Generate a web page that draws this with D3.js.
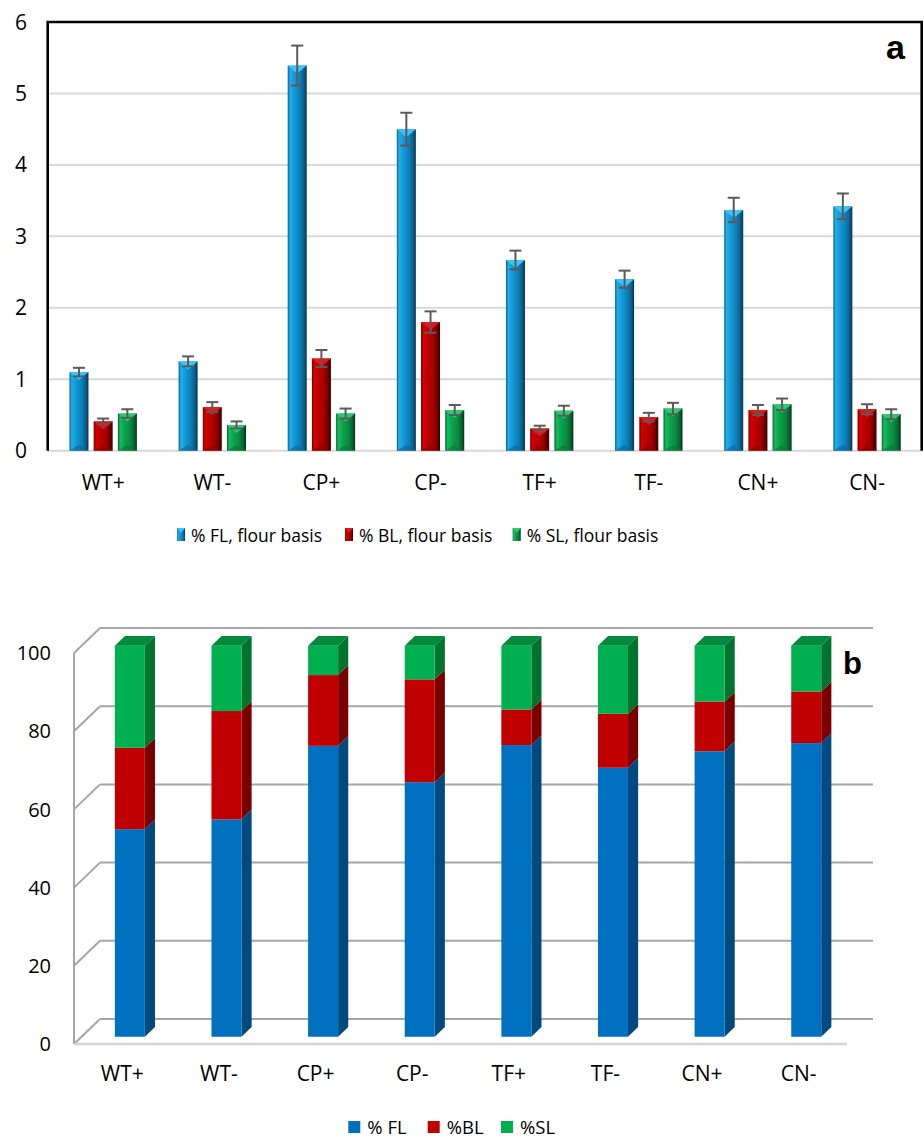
<!DOCTYPE html>
<html><head><meta charset="utf-8">
<script src="https://cdn.jsdelivr.net/npm/d3@7"></script>
<style>body{margin:0;background:#fff}svg{display:block}</style>
</head><body>
<svg id="chart" width="923" height="1140"></svg>
<script>
// Sample groups
const categories = ["WT+", "WT-", "CP+", "CP-", "TF+", "TF-", "CN+", "CN-"];

// Panel a: losses on flour basis (%) with standard deviations
const flValues = [1.10, 1.25, 5.39, 4.50, 2.67, 2.40, 3.37, 3.42];
const flErrors = [0.06, 0.07, 0.28, 0.23, 0.13, 0.12, 0.17, 0.18];
const blValues = [0.41, 0.61, 1.29, 1.80, 0.31, 0.47, 0.57, 0.58];
const blErrors = [0.04, 0.07, 0.12, 0.15, 0.04, 0.06, 0.07, 0.07];
const slValues = [0.52, 0.36, 0.52, 0.57, 0.56, 0.59, 0.65, 0.51];
const slErrors = [0.06, 0.05, 0.07, 0.07, 0.07, 0.08, 0.08, 0.07];

// Panel b: share of each loss in the total (%)
const pctFL = [53.1, 55.6, 74.4, 65.1, 74.6, 68.8, 73.0, 75.1];
const pctBL = [20.8, 27.7, 18.1, 26.3, 9.1, 13.8, 12.7, 13.2];
const pctSL = [26.1, 16.7, 7.5, 8.6, 16.3, 17.4, 14.3, 11.7];

const seriesKeys = ["FL", "BL", "SL"];
const legendLabelsA = ["% FL, flour basis", "% BL, flour basis", "% SL, flour basis"];
const legendLabelsB = ["% FL", "%BL", "%SL"];
const yTicksA = [0, 1, 2, 3, 4, 5, 6];
const yTicksB = [0, 20, 40, 60, 80, 100];

const FONT = "'Open Sans', 'Noto Sans', sans-serif";
const svg = d3.select("#chart");
const defs = svg.append("defs");

// ---------------- Panel a: clustered bars with bevelled look ----------------
const frameA = { left: 47.7, right: 921.7, top: 22, bottom: 450.7 };
const yA = d3.scaleLinear().domain([0, 6]).range([frameA.bottom, frameA.top]);
const xA = d3.scaleBand().domain(categories).range([48.6, 921.6]);
const xInner = d3.scaleBand().domain(seriesKeys).range([-33.7, 33.7]).paddingInner(0.215);

const styleA = {
  FL: { stops: ["#0d5e8c", "#1cb0ea", "#1598d6", "#0c7fba", "#0a5a86", "#062f47"], top: "#3cc4f6", base: "#0a6a9c" },
  BL: { stops: ["#6e0000", "#d40000", "#bd0000", "#a30000", "#6a0000", "#330000"], top: "#e41616", base: "#8a0000" },
  SL: { stops: ["#06602e", "#14bc5e", "#0da14d", "#0a8a40", "#06602c", "#033018"], top: "#26cc6e", base: "#077a3a" }
};
const stopOffsets = [0, 0.12, 0.35, 0.65, 0.88, 1];
seriesKeys.forEach(k => {
  const g = defs.append("linearGradient").attr("id", "grad" + k)
    .attr("x1", 0).attr("x2", 1).attr("y1", 0).attr("y2", 0);
  styleA[k].stops.forEach((c, i) => g.append("stop").attr("offset", stopOffsets[i]).attr("stop-color", c));
});

const gA = svg.append("g");

// gridlines
gA.selectAll("line.grid").data(yTicksA.filter(t => t > 0 && t < 6)).join("line")
  .attr("x1", frameA.left).attr("x2", frameA.right)
  .attr("y1", d => yA(d)).attr("y2", d => yA(d))
  .attr("stroke", "#d9d9d9").attr("stroke-width", 2);
// category axis line
gA.append("line").attr("x1", frameA.left).attr("x2", frameA.right)
  .attr("y1", yA(0)).attr("y2", yA(0)).attr("stroke", "#d9d9d9").attr("stroke-width", 2);
// frame
gA.append("path")
  .attr("d", `M${frameA.left},${frameA.bottom}V${frameA.top}H${frameA.right}V${frameA.bottom}`)
  .attr("fill", "none").attr("stroke", "#000").attr("stroke-width", 2.6);

// y tick labels
gA.selectAll("text.ytick").data(yTicksA).join("text")
  .attr("x", 27).attr("y", d => yA(d)).attr("dy", "0.36em")
  .attr("text-anchor", "end").attr("font-family", FONT).attr("font-size", 21).attr("fill", "#000")
  .text(d => d);

// bars
const tableA = categories.map((c, i) => ({
  cat: c,
  FL: { v: flValues[i], e: flErrors[i] },
  BL: { v: blValues[i], e: blErrors[i] },
  SL: { v: slValues[i], e: slErrors[i] }
}));
const barsA = [];
tableA.forEach(row => seriesKeys.forEach(k => barsA.push({ cat: row.cat, key: k, v: row[k].v, e: row[k].e })));

const bw = xInner.bandwidth();
const barG = gA.selectAll("g.bar").data(barsA).join("g")
  .attr("transform", d => `translate(${xA(d.cat) + xA.bandwidth() / 2 + xInner(d.key)},0)`);

barG.append("rect")
  .attr("x", 0).attr("width", bw)
  .attr("y", d => yA(d.v)).attr("height", d => yA(0) - yA(d.v))
  .attr("fill", d => `url(#grad${d.key})`);
// top bevel
barG.append("path")
  .attr("d", d => `M0,${yA(d.v)}H${bw}L${bw / 2},${yA(d.v) + 8}Z`)
  .attr("fill", d => styleA[d.key].top);
// bottom bevel
barG.append("path")
  .attr("d", d => `M0,${yA(0)}H${bw}L${bw / 2},${yA(0) - 6}Z`)
  .attr("fill", d => styleA[d.key].base).attr("opacity", 0.7);

// error bars
const errG = barG.append("g").attr("stroke", "#5a5a5a").attr("stroke-width", 2);
errG.append("line").attr("x1", bw / 2).attr("x2", bw / 2)
  .attr("y1", d => yA(d.v + d.e)).attr("y2", d => yA(d.v - d.e));
errG.append("line").attr("x1", bw / 2 - 6).attr("x2", bw / 2 + 6)
  .attr("y1", d => yA(d.v + d.e)).attr("y2", d => yA(d.v + d.e));
errG.append("line").attr("x1", bw / 2 - 6).attr("x2", bw / 2 + 6)
  .attr("y1", d => yA(d.v - d.e)).attr("y2", d => yA(d.v - d.e));

// x labels
gA.selectAll("text.xlab").data(categories).join("text")
  .attr("x", d => xA(d) + xA.bandwidth() / 2).attr("y", 490)
  .attr("text-anchor", "middle").attr("font-family", FONT).attr("font-size", 21).attr("fill", "#000")
  .text(d => d);

// panel letter
gA.append("text").attr("x", 905).attr("y", 59).attr("text-anchor", "end")
  .attr("font-family", "'Liberation Sans', Arial, sans-serif").attr("font-weight", "bold")
  .attr("font-size", 34).text("a");

// legend a
const legendAX = [177, 345, 512.7];
const legA = gA.selectAll("g.legA").data(seriesKeys).join("g")
  .attr("transform", (d, i) => `translate(${legendAX[i]},528)`);
legA.append("rect").attr("width", 8).attr("height", 13).attr("fill", d => `url(#grad${d})`);
legA.append("path").attr("d", "M0,0H8L4,5Z").attr("fill", d => styleA[d].top);
legA.append("text").attr("x", 14).attr("y", 13.5)
  .attr("font-family", FONT).attr("font-size", 17.5).attr("fill", "#000")
  .text((d, i) => legendLabelsA[i]);

// ---------------- Panel b: 3-D stacked percentage columns ----------------
const floorL = 74, floorR = 847, wallDX = 26, wallDY = -25;
const yB = d3.scaleLinear().domain([0, 100]).range([1044, 653]);
const xB = d3.scaleBand().domain(categories).range([floorL, floorR]);
const barWB = 30, depthStart = 0.29, depthSize = 0.39;
const sideDX = depthSize * wallDX, sideDY = depthSize * wallDY;

const styleB = {
  FL: { front: "#0070c0", side: "#004a7f", top: "#005c9e" },
  BL: { front: "#c00000", side: "#7a0000", top: "#960000" },
  SL: { front: "#00b050", side: "#00742f", top: "#008a3e" }
};

const gB = svg.append("g");
const grid = "#a6a6a6";
// back wall gridlines
gB.selectAll("line.bgrid").data(yTicksB).join("line")
  .attr("x1", floorL + wallDX).attr("x2", floorR + wallDX)
  .attr("y1", d => yB(d) + wallDY).attr("y2", d => yB(d) + wallDY)
  .attr("stroke", grid).attr("stroke-width", 2);
// side wall gridlines
gB.selectAll("line.sgrid").data(yTicksB).join("line")
  .attr("x1", floorL).attr("x2", floorL + wallDX)
  .attr("y1", d => yB(d)).attr("y2", d => yB(d) + wallDY)
  .attr("stroke", grid).attr("stroke-width", 2);
// side wall front edge
gB.append("line").attr("x1", floorL).attr("x2", floorL)
  .attr("y1", yB(0)).attr("y2", yB(100)).attr("stroke", grid).attr("stroke-width", 2);
// floor front edge
gB.append("line").attr("x1", floorL).attr("x2", floorR)
  .attr("y1", yB(0)).attr("y2", yB(0)).attr("stroke", "#d4d4d4").attr("stroke-width", 2.5);

// y tick labels
gB.selectAll("text.ytickB").data(yTicksB).join("text")
  .attr("x", 51).attr("y", d => yB(d)).attr("dy", "0.36em")
  .attr("text-anchor", "end").attr("font-family", FONT).attr("font-size", 20).attr("fill", "#000")
  .text(d => d);

// stacked columns
const tableB = categories.map((c, i) => ({ cat: c, FL: pctFL[i], BL: pctBL[i], SL: pctSL[i] }));
const stackB = d3.stack().keys(seriesKeys)(tableB);
const segs = [];
stackB.forEach((layer, li) => layer.forEach(s => segs.push({
  key: layer.key, cat: s.data.cat, y0: s[0], y1: s[1], isTop: li === stackB.length - 1
})));

const colG = gB.selectAll("g.seg").data(segs).join("g");
const fx = d => xB(d.cat) + xB.bandwidth() / 2 + depthStart * wallDX - barWB / 2;
const fy = v => yB(v) + depthStart * wallDY;

// side faces
colG.append("path")
  .attr("d", d => {
    const x = fx(d) + barWB, a = fy(d.y0), b = fy(d.y1);
    return `M${x},${a}L${x + sideDX},${a + sideDY}L${x + sideDX},${b + sideDY}L${x},${b}Z`;
  })
  .attr("fill", d => styleB[d.key].side);
// front faces
colG.append("rect")
  .attr("x", fx).attr("width", barWB)
  .attr("y", d => fy(d.y1)).attr("height", d => fy(d.y0) - fy(d.y1))
  .attr("fill", d => styleB[d.key].front);
// top faces
colG.filter(d => d.isTop).append("path")
  .attr("d", d => {
    const x = fx(d), t = fy(d.y1);
    return `M${x},${t}L${x + sideDX},${t + sideDY}L${x + barWB + sideDX},${t + sideDY}L${x + barWB},${t}Z`;
  })
  .attr("fill", d => styleB[d.key].top);

// x labels
gB.selectAll("text.xlabB").data(categories).join("text")
  .attr("x", d => xB(d) + xB.bandwidth() / 2).attr("y", 1081)
  .attr("text-anchor", "middle").attr("font-family", FONT).attr("font-size", 21).attr("fill", "#000")
  .text(d => d);

// panel letter
gB.append("text").attr("x", 843).attr("y", 674)
  .attr("font-family", "'Liberation Sans', Arial, sans-serif").attr("font-weight", "bold")
  .attr("font-size", 31).text("b");

// legend b
const legendBX = [348.3, 427.7, 501];
const legB = gB.selectAll("g.legB").data(seriesKeys).join("g")
  .attr("transform", (d, i) => `translate(${legendBX[i]},1121)`);
legB.append("rect").attr("width", 12).attr("height", 12).attr("fill", d => styleB[d].front);
legB.append("text").attr("x", 19).attr("y", 12.5)
  .attr("font-family", FONT).attr("font-size", 18.5).attr("fill", "#000")
  .text((d, i) => legendLabelsB[i]);
</script>
</body></html>
